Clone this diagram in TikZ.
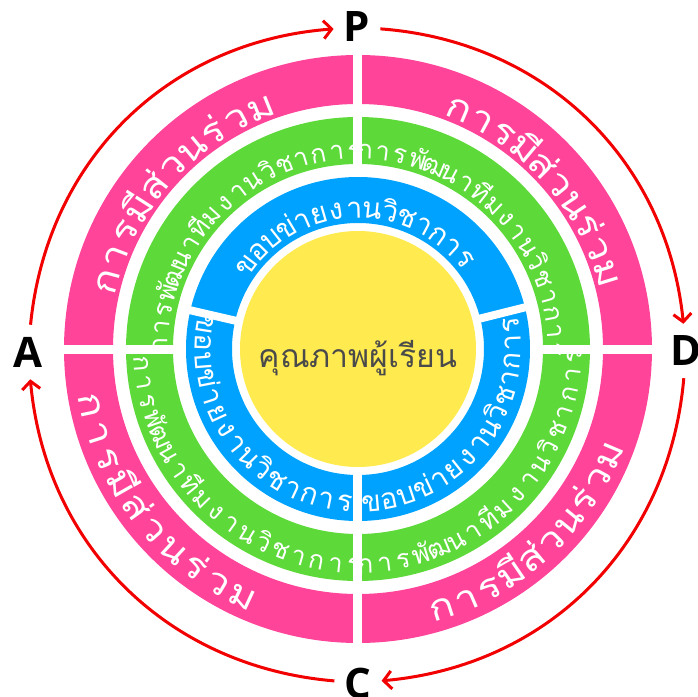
\documentclass[tikz,border=0pt]{standalone}
\usepackage{fontspec}
\usepackage{graphicx}
\newfontfamily\thaifont[Script=Thai]{Loma}
\newfontfamily\labelfont{Open Sans}
\usetikzlibrary{arrows.meta,positioning}
\definecolor{ringpink}{HTML}{FF4499}
\definecolor{ringgreen}{HTML}{5DD93A}
\definecolor{ringblue}{HTML}{00A2FF}
\definecolor{coreyellow}{HTML}{FFEA50}
\definecolor{coregrey}{HTML}{4A4A4A}
\definecolor{cyclered}{HTML}{F20000}

\tikzset{
  ringglyph/.style={text=white, inner sep=0pt, anchor=base},
  pdcalabel/.style={font=\labelfont\bfseries\fontsize{42}{42}\selectfont, inner xsep=10pt, inner ysep=12pt},
  cyclearrow/.style={draw=cyclered, line width=3pt, -{Straight Barb[length=8pt,width=18pt]}}
}

% text set glyph by glyph on an arc: [stretch] size, radius, from angle, to angle, glyphs
\newdimen\rtwidth \newcount\rtcount \newdimen\rtpos
\newcommand\ringtext[6][1]{%
  \global\rtwidth=0pt \global\rtcount=0
  \foreach \g in {#6}{%
    \setbox0=\hbox{\scalebox{#1}[1]{\thaifont\fontsize{#2}{#2}\selectfont\g}}%
    \global\advance\rtwidth by \wd0\relax
    \global\advance\rtcount by 1\relax}%
  \pgfmathsetmacro\rtsign{(#5<#4) ? -1 : 1}%
  \pgfmathsetmacro\rtmid{#3-(\rtsign)*0.3*#2}%
  \pgfmathsetmacro\rtgap{(abs(#5-#4)*pi/180*\rtmid - \the\rtwidth)/(\the\rtcount-1)}%
  \global\rtpos=0pt
  \foreach \g in {#6}{%
    \setbox0=\hbox{\scalebox{#1}[1]{\thaifont\fontsize{#2}{#2}\selectfont\g}}%
    \pgfmathsetmacro\rtang{#4+(\rtsign)*(\the\rtpos+0.5*\the\wd0)/\rtmid*180/pi}%
    \pgfmathsetmacro\rtrot{\rtang+90*(\rtsign)}%
    \node[ringglyph, font=\thaifont\fontsize{#2}{#2}\selectfont, rotate=\rtrot] at (\rtang:#3) {\scalebox{#1}[1]{\g}};
    \global\advance\rtpos by \wd0\relax
    \global\advance\rtpos by \rtgap pt\relax}%
}

\begin{document}
\begin{tikzpicture}[x=1pt,y=1pt]
    \useasboundingbox (-358,-348) rectangle (339,349);

    % rings
    \fill[ringpink, even odd rule] (0,0) circle (294) (0,0) circle (245);
    \fill[ringgreen, even odd rule] (0,0) circle (232) (0,0) circle (185);
    \fill[ringblue, even odd rule] (0,0) circle (172) (0,0) circle (126);
    \fill[coreyellow] (0,0) circle (118);

    % gaps between the pieces
    \fill[white] (-4.5,178) rectangle (4.5,300);
    \fill[white] (-4.5,-300) rectangle (4.5,-121);
    \fill[white] (-300,-4.5) rectangle (-178,4.5);
    \fill[white] (178,-4.5) rectangle (300,4.5);
    \foreach \a in {14,167} {
        \draw[white, line width=8pt] (\a:121) -- (\a:177);
    }

    % outer ring
    \ringtext[1.15]{36}{249}{165}{112}{ก,า,ร,มี,ส่,ว,น,ร่,ว,ม}
    \ringtext[1.15]{36}{249}{67}{17}{ก,า,ร,มี,ส่,ว,น,ร่,ว,ม}
    \ringtext[1.15]{36}{284}{192}{245}{ก,า,ร,มี,ส่,ว,น,ร่,ว,ม}
    \ringtext[1.15]{36}{284}{-72}{-23}{ก,า,ร,มี,ส่,ว,น,ร่,ว,ม}

    % middle ring
    \ringtext{26}{190}{179}{91}{ก,า,ร,พั,ฒ,น,า,ที,ม,ง,า,น,วิ,ช,า,ก,า,ร}
    \ringtext{26}{190}{88}{0}{ก,า,ร,พั,ฒ,น,า,ที,ม,ง,า,น,วิ,ช,า,ก,า,ร}
    \ringtext{26}{224}{184}{269}{ก,า,ร,พั,ฒ,น,า,ที,ม,ง,า,น,วิ,ช,า,ก,า,ร}
    \ringtext{26}{224}{-88}{-2}{ก,า,ร,พั,ฒ,น,า,ที,ม,ง,า,น,วิ,ช,า,ก,า,ร}

    % inner ring
    \ringtext{29}{131}{143}{40}{ข,อ,บ,ข่,า,ย,ง,า,น,วิ,ช,า,ก,า,ร}
    \ringtext{29}{163}{171}{265}{ข,อ,บ,ข่,า,ย,ง,า,น,วิ,ช,า,ก,า,ร}
    \ringtext{29}{163}{-85}{9}{ข,อ,บ,ข่,า,ย,ง,า,น,วิ,ช,า,ก,า,ร}

    % centre
    \node[text=coregrey, font=\thaifont\fontsize{32}{32}\selectfont, anchor=base] (core) at (0,-18) {คุณภาพผู้เรียน};

    % PDCA cycle
    \node[pdcalabel] (P) at (-1,322) {P};
    \node[pdcalabel] (D) at (328,-2) {D};
    \node[pdcalabel] (C) at (0,-334) {C};
    \node[pdcalabel] (A) at (-330,-3) {A};
    \draw[cyclearrow] (A) to[bend left=40] (P);
    \draw[cyclearrow] (P) to[bend left=40] (D);
    \draw[cyclearrow] (D) to[bend left=40] (C);
    \draw[cyclearrow] (C) to[bend left=40] (A);
\end{tikzpicture}
\end{document}
